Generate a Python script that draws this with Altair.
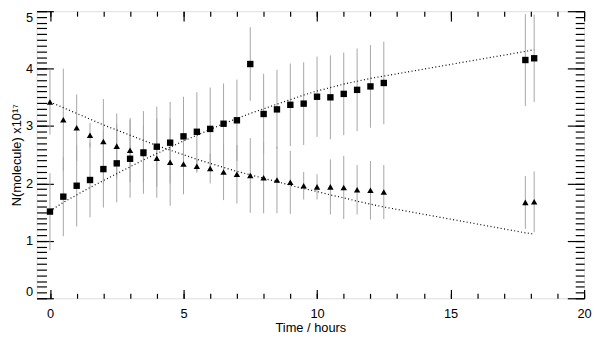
import altair as alt
import pandas as pd

# time (hours)
t = [0, 0.5, 1, 1.5, 2, 2.5, 3, 3.5, 4, 4.5, 5, 5.5, 6, 6.5, 7, 7.5, 8, 8.5,
     9, 9.5, 10, 10.5, 11, 11.5, 12, 12.5, 17.8, 18.13]
# squares series (x1e17) and error
sq = [1.51, 1.77, 1.96, 2.06, 2.25, 2.35, 2.43, 2.54, 2.64, 2.71, 2.82, 2.90, 2.95, 3.04,
      3.10, 4.08, 3.21, 3.29, 3.37, 3.39, 3.51, 3.50, 3.56, 3.63, 3.69, 3.75, 4.15, 4.18]
sq_err = [0.67, 0.69, 0.71, 0.65, 0.67, 0.68, 0.68, 0.72, 0.70, 0.71, 0.69, 0.69, 0.72, 0.70,
          0.71, 0.64, 0.70, 0.69, 0.72, 0.72, 0.70, 0.73, 0.72, 0.72, 0.72, 0.72, 0.80, 0.76]
# triangles series and error
tri = [3.42, 3.11, 2.97, 2.84, 2.73, 2.65, 2.58, 2.52, 2.44, 2.37, 2.34, 2.30, 2.26, 2.20,
       2.16, 2.14, 2.10, 2.06, 2.02, 1.96, 1.94, 1.94, 1.93, 1.89, 1.88, 1.85, 1.67, 1.68]
tri_err = [0.57, 0.89, 0.58, 0.21, 0.74, 0.57, 0.56, 0.50, 0.69, 0.76, 0.53, 0.11, 0.26, 0.49,
           0.51, 0.65, 0.62, 0.58, 0.55, 0.24, 0.22, 0.48, 0.55, 0.43, 0.51, 0.47, 0.46, 0.53]
# model curves (dotted)
sq_model = [1.52, 1.67, 1.80, 1.93, 2.05, 2.17, 2.29, 2.41, 2.52, 2.63, 2.74, 2.84, 2.94, 3.04,
            3.13, 3.22, 3.30, 3.38, 3.46, 3.54, 3.61, 3.67, 3.73, 3.78, 3.83, 3.87, 4.30, 4.33]
tri_model = [3.42, 3.32, 3.22, 3.12, 3.02, 2.93, 2.84, 2.75, 2.66, 2.58, 2.50, 2.42, 2.35, 2.28,
             2.21, 2.15, 2.09, 2.03, 1.97, 1.91, 1.86, 1.80, 1.75, 1.69, 1.64, 1.59, 1.14, 1.12]

x_major = [0, 5, 10, 15, 20]
x_minor = list(range(0, 21))
y_major = [0, 1, 2, 3, 4, 5]
y_minor = [i / 10 for i in range(0, 51)]

df = pd.DataFrame({
    "t": t, "sq": sq, "tri": tri,
    "sq_lo": [v - e for v, e in zip(sq, sq_err)],
    "sq_hi": [v + e for v, e in zip(sq, sq_err)],
    "tri_lo": [v - e for v, e in zip(tri, tri_err)],
    "tri_hi": [v + e for v, e in zip(tri, tri_err)],
    "sq_model": sq_model, "tri_model": tri_model,
})

FONT = "Liberation Sans"
xs = alt.Scale(domain=[-0.5, 20], nice=False, zero=False)
ys = alt.Scale(domain=[0, 5], nice=False, zero=False)

def xaxis(orient, values, size, labels=False, title=None):
    kw = dict(orient=orient, values=values, tickSize=size, offset=-size, domain=False,
              grid=False, labels=labels, tickColor="black", tickWidth=1.2)
    if labels:
        kw.update(labelFont=FONT, labelFontSize=13, labelColor="black", labelPadding=9,
                  labelFlush=False,
                  title=title, titleFont=FONT, titleFontSize=13, titleFontWeight="normal",
                  titleColor="black", titlePadding=2)
    else:
        kw.update(title=None)
    return alt.Axis(**kw)

def yaxis(orient, values, size, labels=False, title=None):
    kw = dict(orient=orient, values=values, tickSize=size, offset=-size, domain=False,
              grid=False, labels=labels, tickColor="black", tickWidth=1.2)
    if labels:
        kw.update(labelFont=FONT, labelFontSize=13, labelColor="black", labelPadding=4,
                  labelFlush=True,
                  title=title, titleFont=FONT, titleFontSize=13, titleFontWeight="normal",
                  titleColor="black", titlePadding=2)
    else:
        kw.update(title=None)
    return alt.Axis(**kw)

base = alt.Chart(df)

sq_bars = base.mark_rule(color="#a6a6a6", strokeWidth=1).encode(
    x=alt.X("t:Q", scale=xs, axis=xaxis("bottom", x_major, 9, True, "Time / hours")),
    y=alt.Y("sq_lo:Q", scale=ys, axis=yaxis("left", y_major, 17, True, "N(molecule) x10\u00b9\u2077")),
    y2="sq_hi:Q",
)
tri_bars = base.mark_rule(color="#a6a6a6", strokeWidth=1).encode(
    x=alt.X("t:Q", scale=xs, axis=xaxis("bottom", x_minor, 5)),
    y=alt.Y("tri_lo:Q", scale=ys, axis=yaxis("left", y_minor, 10)),
    y2="tri_hi:Q",
)
sq_line = base.mark_line(color="black", strokeDash=[1, 2.5], strokeWidth=1.2).encode(
    x=alt.X("t:Q", scale=xs, axis=xaxis("top", x_major, 10)),
    y=alt.Y("sq_model:Q", scale=ys, axis=yaxis("right", y_major, 17)),
)
tri_line = base.mark_line(color="black", strokeDash=[1, 2.5], strokeWidth=1.2).encode(
    x=alt.X("t:Q", scale=xs, axis=xaxis("top", x_minor, 5)),
    y=alt.Y("tri_model:Q", scale=ys, axis=yaxis("right", y_minor, 9)),
)
tri_pts = base.mark_point(shape="triangle-up", filled=True, size=42, color="black", opacity=1).encode(
    x=alt.X("t:Q", scale=xs, axis=None),
    y=alt.Y("tri:Q", scale=ys, axis=None),
)
sq_pts = base.mark_point(shape="square", filled=True, size=42, color="black", opacity=1).encode(
    x=alt.X("t:Q", scale=xs, axis=None),
    y=alt.Y("sq:Q", scale=ys, axis=None),
)

chart = alt.layer(sq_bars, tri_bars, sq_line, tri_line, tri_pts, sq_pts).resolve_axis(
    x="independent", y="independent"
).properties(
    width=555, height=291,
    autosize=alt.AutoSizeParams(type="none"),
    padding={"left": 29, "top": 1, "right": 8, "bottom": 36},
).configure_view(stroke="black", strokeWidth=1.5).configure(background="white")

chart.save("out.html", embed_options={"renderer": "svg", "actions": False})
